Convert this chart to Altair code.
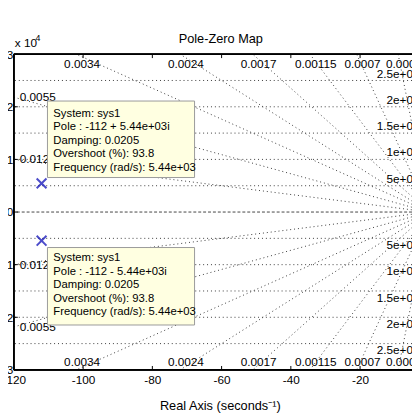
import altair as alt
import pandas as pd
import numpy as np

# ---------------- data ----------------
damping = [0.012, 0.0055, 0.0034, 0.0024, 0.0017, 0.00115, 0.0007, 0.0003]
damping_labels = ["0.012", "0.0055", "0.0034", "0.0024", "0.0017", "0.00115", "0.0007", "0.0003"]
freqs = [5000, 10000, 15000, 20000, 25000]
freq_labels = ["5e+03", "1e+04", "1.5e+04", "2e+04", "2.5e+04"]
pole_re = [-112, -112]
pole_im = [5440, -5440]
tip_texts = [
    "System: sys1\nPole : -112 + 5.44e+03i\nDamping: 0.0205\nOvershoot (%): 93.8\nFrequency (rad/s): 5.44e+03",
    "System: sys1\nPole : -112 - 5.44e+03i\nDamping: 0.0205\nOvershoot (%): 93.8\nFrequency (rad/s): 5.44e+03",
]
x_ticks = [-120, -100, -80, -60, -40, -20]
y_ticks = [-30000, -20000, -10000, 0, 10000, 20000, 30000]
x_domain = [-120, -5]
y_domain = [-30000, 30000]
exp_base = ["x 10"]
exp_power = ["4"]

FONT = "Liberation Sans"
GRID = "#3a3a3a"
W, H = 406, 322

# ---------------- derived tables ----------------
xmin = x_domain[0]
ymax = y_domain[1]
line_rows = []
lab_left, lab_edge = [], []
for z, lab in zip(damping, damping_labels):
    slope = np.sqrt(1 - z * z) / z
    for s in (1, -1):
        lid = f"{lab}_{s}"
        line_rows.append({"id": lid, "re": 0.0, "im": 0.0})
        line_rows.append({"id": lid, "re": float(xmin), "im": float(s * -xmin * slope)})
        if -xmin * slope <= ymax:
            lab_left.append({"re": float(xmin), "im": float(s * -xmin * slope), "t": lab})
        else:
            lab_edge.append({"re": float(-ymax / slope), "im": float(s * ymax), "t": lab, "s": s})
lines_df = pd.DataFrame(line_rows)
left_df = pd.DataFrame(lab_left)
edge_df = pd.DataFrame(lab_edge)

freq_df = pd.DataFrame(
    [{"im": s * f, "t": t, "s": s, "re": 0.0} for f, t in zip(freqs, freq_labels) for s in (1, -1)]
)
poles_df = pd.DataFrame({"re": pole_re, "im": pole_im, "tip": tip_texts})
xt_df = pd.DataFrame({"re": x_ticks})
yt_df = pd.DataFrame({"im": y_ticks})

xs = alt.Scale(domain=x_domain, nice=False, zero=False)
ys = alt.Scale(domain=y_domain, nice=False, zero=False)
NX = alt.X("re:Q", scale=xs)
NY = alt.Y("im:Q", scale=ys)

x_bottom = alt.Axis(
    orient="bottom", values=x_ticks, labelExpr="'' + datum.value", grid=False,
    ticks=False, domain=False, labelFlush=False, labelOverlap=False,
    labelFont=FONT, labelFontSize=12, labelColor="black", labelPadding=5,
    title="Real Axis (seconds\u207b\u00b9)", titleFont=FONT, titleFontSize=13,
    titleFontWeight="normal", titleColor="black", titleX=210, titleY=40,
    titleBaseline="alphabetic",
)
y_left = alt.Axis(
    orient="left", values=y_ticks, labelExpr="'' + datum.value / 10000", grid=False,
    ticks=False, domain=False, labelFlush=False, labelOverlap=False,
    labelFont=FONT, labelFontSize=12, labelColor="black", labelPadding=1, title=None,
)

damp_lines = alt.Chart(lines_df).mark_line(
    color=GRID, strokeDash=[1, 3], strokeWidth=1, clip=True
).encode(
    x=alt.X("re:Q", scale=xs, axis=x_bottom),
    y=alt.Y("im:Q", scale=ys, axis=y_left),
    detail="id:N",
)
freq_rules = alt.Chart(freq_df).mark_rule(color=GRID, strokeDash=[1, 3], strokeWidth=1).encode(y=NY)
zero_rule = alt.Chart(pd.DataFrame({"im": [0]})).mark_rule(
    color="#444", strokeDash=[3, 2], strokeWidth=1
).encode(y=NY)
txt = dict(font=FONT, fontSize=12, color="black", clip=True)
left_labels = alt.Chart(left_df).mark_text(align="left", baseline="middle", dx=6, **txt).encode(
    x=NX, y=NY, text="t:N"
)
top_labels = alt.Chart(edge_df).transform_filter("datum.s > 0").mark_text(
    align="center", baseline="middle", dx=6, dy=10, **txt
).encode(x=NX, y=NY, text="t:N")
bot_labels = alt.Chart(edge_df).transform_filter("datum.s < 0").mark_text(
    align="center", baseline="middle", dx=6, dy=-8, **txt
).encode(x=NX, y=NY, text="t:N")
fpos = alt.Chart(freq_df).transform_filter("datum.s > 0").mark_text(
    align="right", baseline="middle", dx=-10, dy=-7, **txt
).encode(x=NX, y=NY, text="t:N")
fneg = alt.Chart(freq_df).transform_filter("datum.s < 0").mark_text(
    align="right", baseline="middle", dx=-10, dy=7, **txt
).encode(x=NX, y=NY, text="t:N")

# frame (left, top, bottom) and inward ticks
frame_left = alt.Chart(xt_df).mark_rule(color="black", strokeWidth=1).encode(
    x=alt.value(0), y=alt.value(0), y2=alt.value(H))
frame_top = alt.Chart(xt_df).mark_rule(color="black", strokeWidth=1).encode(
    y=alt.value(0), x=alt.value(0), x2=alt.value(W))
frame_bot = alt.Chart(xt_df).mark_rule(color="black", strokeWidth=1).encode(
    y=alt.value(H), x=alt.value(0), x2=alt.value(W))
tick_bot = alt.Chart(xt_df).mark_rule(color="black", strokeWidth=1).encode(
    x=NX, y=alt.value(H), y2=alt.value(H - 4))
tick_top = alt.Chart(xt_df).mark_rule(color="black", strokeWidth=1).encode(
    x=NX, y=alt.value(0), y2=alt.value(4))
tick_left = alt.Chart(yt_df).mark_rule(color="black", strokeWidth=1).encode(
    y=NY, x=alt.value(0), x2=alt.value(4))

exp1 = alt.Chart(pd.DataFrame({"t": exp_base})).mark_text(
    font=FONT, fontSize=12, color="black", align="left", baseline="alphabetic"
).encode(x=alt.value(1), y=alt.value(-7), text="t:N")
exp2 = alt.Chart(pd.DataFrame({"t": exp_power})).mark_text(
    font=FONT, fontSize=9, color="black", align="left", baseline="alphabetic"
).encode(x=alt.value(22), y=alt.value(-13), text="t:N")

poles = alt.Chart(poles_df).mark_point(
    shape="M-1,-1L1,1M-1,1L1,-1", filled=False, size=100, strokeWidth=2, color="#0000b4"
).encode(x=NX, y=NY)

box_style = dict(fill="#ffffe1", stroke="#9a9a9a", strokeWidth=1)
box_up = alt.Chart(poles_df).transform_filter("datum.im > 0").mark_rect(
    xOffset=6, x2Offset=156, yOffset=-84, y2Offset=-6, **box_style
).encode(x=NX, x2="re:Q", y=NY, y2="im:Q")
box_dn = alt.Chart(poles_df).transform_filter("datum.im < 0").mark_rect(
    xOffset=6, x2Offset=156, yOffset=7, y2Offset=86, **box_style
).encode(x=NX, x2="re:Q", y=NY, y2="im:Q")
tip_style = dict(font=FONT, fontSize=11.5, color="black", align="left", baseline="top",
                 lineBreak="\n", lineHeight=13.8)
tip_up = alt.Chart(poles_df).transform_filter("datum.im > 0").mark_text(
    dx=12, dy=-77, **tip_style
).encode(x=NX, y=NY, text="tip:N")
tip_dn = alt.Chart(poles_df).transform_filter("datum.im < 0").mark_text(
    dx=12, dy=12, **tip_style
).encode(x=NX, y=NY, text="tip:N")

chart = alt.layer(
    damp_lines, freq_rules, zero_rule, left_labels, top_labels, bot_labels, fpos, fneg,
    frame_left, frame_top, frame_bot, tick_bot, tick_top, tick_left, exp1, exp2,
    poles, box_up, box_dn, tip_up, tip_dn,
).properties(
    width=W, height=H,
    title=alt.TitleParams("Pole-Zero Map", font=FONT, fontSize=13, fontWeight="normal",
                          color="black", frame="group", anchor="middle", dx=8, offset=-12),
    autosize=alt.AutoSizeParams(type="none"),
    padding={"left": 6, "top": 43, "right": 0, "bottom": 47},
).configure_view(stroke=None)

chart.save("out.html", embed_options={"renderer": "svg", "actions": False})
